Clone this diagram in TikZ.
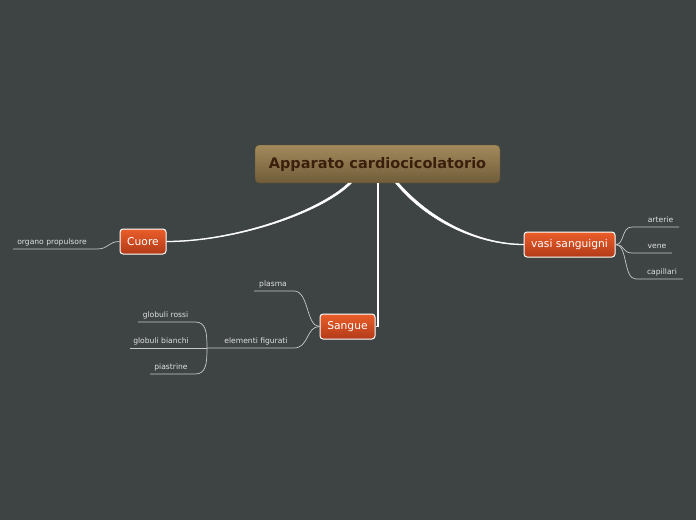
\documentclass[tikz,border=0pt]{standalone}
\usepackage{fontspec}
\setmainfont{DejaVu Sans}
\usetikzlibrary{calc}
\definecolor{bg}{RGB}{62,68,68}
\definecolor{ctop}{RGB}{163,138,92}
\definecolor{cbot}{RGB}{112,92,58}
\definecolor{ctext}{RGB}{58,32,12}
\definecolor{otop}{RGB}{234,94,42}
\definecolor{obot}{RGB}{178,58,24}
\definecolor{subline}{RGB}{200,200,200}
\definecolor{subtext}{RGB}{225,225,225}
\tikzset{
  central/.style={rounded corners=4pt, top color=ctop, bottom color=cbot, draw=cbot!80!black, line width=0.4pt,
    text=ctext, font=\fontsize{14.5}{16}\selectfont\bfseries, minimum width=245pt, minimum height=38pt, inner sep=0pt},
  topic/.style={rounded corners=3pt, top color=otop, bottom color=obot, draw=white, line width=1pt,
    text=white, font=\fontsize{10.7}{12}\selectfont, minimum height=25pt, inner sep=0pt},
  sublabel/.style={text=subtext, font=\fontsize{7.6}{9}\selectfont, inner sep=0pt},
  mainfill/.style={fill=white, draw=white, line width=0.5pt},
  mainlink/.style={draw=white, line width=2.2pt},
  sublink/.style={draw=subline, line width=0.7pt},
}
\begin{document}
\begin{tikzpicture}[x=1pt,y=-1pt]
\fill[bg] (0,0) rectangle (696,520);
\useasboundingbox (0,0) rectangle (696,520);

% main nodes
\node[central] (center) at (377.5,164) {Apparato cardiocicolatorio};
\node[topic, minimum width=46pt] (cuore) at (143,241.5) {Cuore};
\node[topic, minimum width=91pt] (vasi) at (569.5,244.5) {vasi sanguigni};
\node[topic, minimum width=55pt] (sangue) at (347.5,326.5) {Sangue};

% main connectors (tapered)
\coordinate (cL) at (350,183);
\coordinate (cM) at (378,183);
\coordinate (cR) at (397,183);
\fill[mainfill] ($(cL)+(-1.5,0)$) .. controls (318,212) and (235,241.1) .. ($(cuore.east)+(0,-0.4)$)
   -- ($(cuore.east)+(0,0.4)$) .. controls (235,241.9) and (322,213) .. ($(cL)+(1.5,0)$) -- cycle;
\fill[mainfill] ($(cR)+(-1.5,0)$) .. controls (428,223) and (480,244.9) .. ($(vasi.west)+(0,0.4)$)
   -- ($(vasi.west)+(0,-0.4)$) .. controls (480,244.1) and (432,221) .. ($(cR)+(1.5,0)$) -- cycle;
\draw[mainlink] (cM) -- (cM|-sangue.east);
\draw[mainlink, line width=1pt] ($(cM|-sangue.east)+(0.5,0)$) -- (sangue.east);

% sub labels
\node[sublabel] (organo) at (52,242) {organo propulsore};
\node[sublabel] (arterie) at (660.5,220) {arterie};
\node[sublabel] (vene) at (657,246) {vene};
\node[sublabel] (capillari) at (662,272) {capillari};
\node[sublabel] (plasma) at (273,284) {plasma};
\node[sublabel] (elementi) at (256,341) {elementi figurati};
\node[sublabel] (grossi) at (165.5,315) {globuli rossi};
\node[sublabel] (gbianchi) at (161,341) {globuli bianchi};
\node[sublabel] (piastrine) at (171,367) {piastrine};

% underline end points
\coordinate (organoA) at (97,249);  \coordinate (organoB) at (13,249);
\coordinate (arterieA) at (632,227); \coordinate (arterieB) at (679,227);
\coordinate (veneA) at (632,253);    \coordinate (veneB) at (672,253);
\coordinate (capA) at (636,279);     \coordinate (capB) at (683,279);
\coordinate (plasmaA) at (294,291);  \coordinate (plasmaB) at (254,291);
\coordinate (elemA) at (294,348);    \coordinate (junc) at (207,348);
\coordinate (rossiA) at (195,322);   \coordinate (rossiB) at (138,322);
\coordinate (bianchiB) at (130,348);
\coordinate (piastA) at (195,374);   \coordinate (piastB) at (150,374);

% sub connectors
\draw[sublink] (cuore.west) .. controls (108,241.5) and (109,249) .. (organoA) -- (organoB);
\draw[sublink] (vasi.east) .. controls (625,244.5) and (621,227) .. (arterieA) -- (arterieB);
\draw[sublink] (vasi.east) .. controls (625,244.5) and (622,253) .. (veneA) -- (veneB);
\draw[sublink] (vasi.east) .. controls (628,244.5) and (623,279) .. (capA) -- (capB);
\draw[sublink] (sangue.west) .. controls (306,326.5) and (309,291) .. (plasmaA) -- (plasmaB);
\draw[sublink] (sangue.west) .. controls (306,326.5) and (309,348) .. (elemA) -- (junc);
\draw[sublink] (junc) .. controls (207,332) and (206,322) .. (rossiA) -- (rossiB);
\draw[sublink] (junc) -- (bianchiB);
\draw[sublink] (junc) .. controls (207,364) and (206,374) .. (piastA) -- (piastB);
\end{tikzpicture}
\end{document}
